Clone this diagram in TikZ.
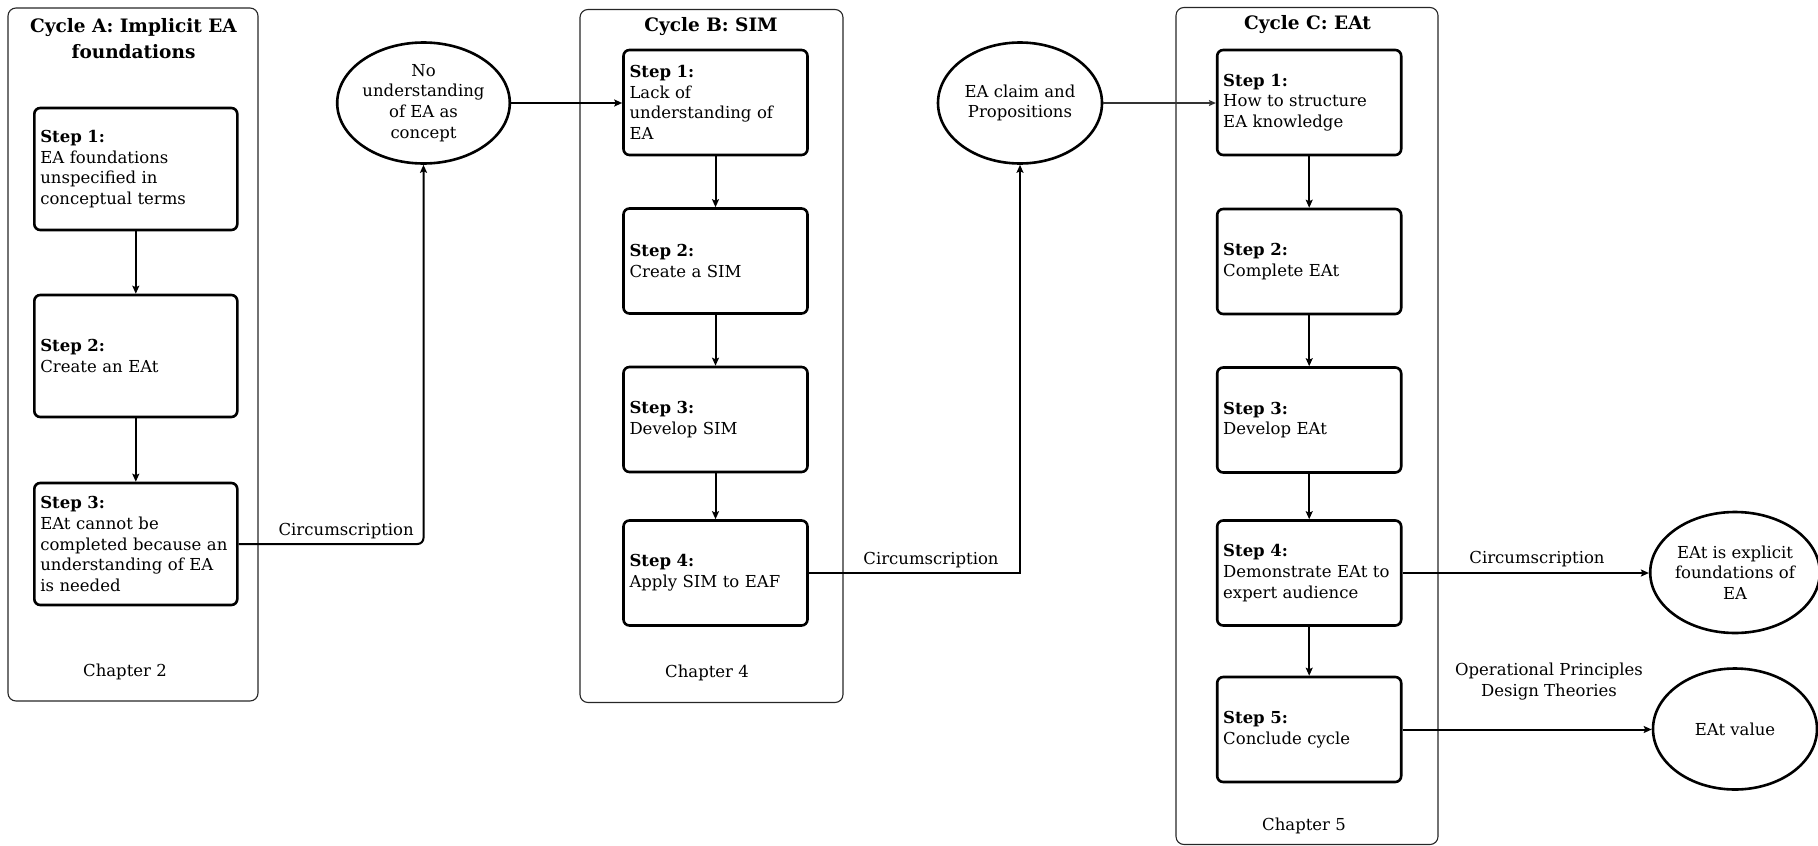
\documentclass[tikz,border=0pt]{standalone}
\usepackage{fontspec}
\setmainfont{DejaVu Serif}
\usetikzlibrary{shapes.geometric,arrows.meta}

\tikzset{
  cyclebox/.style={draw=black!85, line width=1.1pt, rounded corners=8pt, inner sep=0pt},
  cycletitle/.style={font=\fontsize{18.5}{26.5}\selectfont\bfseries, align=center, inner sep=0pt},
  chapter/.style={font=\fontsize{16.5}{20.7}\selectfont, inner sep=0pt},
  stepbox/.style={draw, line width=2.6pt, rounded corners=6pt, align=left,
    font=\fontsize{16.5}{20.7}\selectfont, inner xsep=6pt, inner ysep=0pt},
  stepA/.style={stepbox, minimum width=203pt, minimum height=122pt, text width=191pt},
  stepBC/.style={stepbox, minimum width=184pt, minimum height=105pt, text width=172pt},
  result/.style={draw, ellipse, line width=2.6pt, inner sep=0pt, align=center,
    minimum width=164pt, minimum height=121pt, font=\fontsize{16.5}{20.7}\selectfont},
  flow/.style={line width=2pt, -{Stealth[length=8pt,width=7pt,inset=1.5pt]}},
  thinflow/.style={line width=1.1pt, draw=black!80, -{Stealth[length=7pt,width=6pt,inset=1.2pt]}},
  edgelabel/.style={font=\fontsize{16.5}{20.7}\selectfont, inner sep=0pt},
}

\begin{document}
\begin{tikzpicture}[x=1pt,y=-1pt]
\useasboundingbox (0,0) rectangle (1818,846);

% cycle frames
\node[cyclebox, minimum width=250pt, minimum height=693pt] (cycA) at (133,354.5) {};
\node[cyclebox, minimum width=263pt, minimum height=693pt] (cycB) at (711.5,356) {};
\node[cyclebox, minimum width=262pt, minimum height=837pt] (cycC) at (1307,426) {};

\node[cycletitle] (titleA) at (133.5,38.5) {Cycle A: Implicit EA\\foundations};
\node[cycletitle] (titleB) at (711,27) {Cycle B: SIM};
\node[cycletitle] (titleC) at (1307.5,25) {Cycle C: EAt};

\node[chapter] (chapA) at (125,672) {Chapter 2};
\node[chapter] (chapB) at (707,673) {Chapter 4};
\node[chapter] (chapC) at (1304,826) {Chapter 5};

% cycle A steps
\node[stepA] (a1) at (135.8,169) {\textbf{Step 1:}\\EA foundations\\unspecified in\\conceptual terms};
\node[stepA] (a2) at (135.8,356) {\textbf{Step 2:}\\Create an EAt};
\node[stepA] (a3) at (135.8,544) {\textbf{Step 3:}\\EAt cannot be\\completed because an\\understanding of EA\\is needed};

% cycle B steps
\node[stepBC] (b1) at (715.5,102.5) {\textbf{Step 1:}\\Lack of\\understanding of\\EA};
\node[stepBC] (b2) at (715.5,261) {\textbf{Step 2:}\\Create a SIM};
\node[stepBC] (b3) at (715.5,419.5) {\textbf{Step 3:}\\Develop SIM};
\node[stepBC] (b4) at (715.5,573) {\textbf{Step 4:}\\Apply SIM to EAF};

% cycle C steps
\node[stepBC] (c1) at (1309.2,102.5) {\textbf{Step 1:}\\How to structure\\EA knowledge};
\node[stepBC] (c2) at (1309.2,261.5) {\textbf{Step 2:}\\Complete EAt};
\node[stepBC] (c3) at (1309.2,420) {\textbf{Step 3:}\\Develop EAt};
\node[stepBC] (c4) at (1309.2,573) {\textbf{Step 4:}\\Demonstrate EAt to\\expert audience};
\node[stepBC] (c5) at (1309.2,729.5) {\textbf{Step 5:}\\Conclude cycle};

% outcomes
\node[result] (e1) at (423.5,103) {No\\understanding\\of EA as\\concept};
\node[result] (e2) at (1020,103) {EA claim and\\Propositions};
\node[result] (e3) at (1735,572.5) {EAt is explicit\\foundations of\\EA};
\node[result] (e4) at (1735,729) {EAt value};

% flow inside the cycles
\draw[flow] (a1) -- (a2);
\draw[flow] (a2) -- (a3);
\draw[flow] (b1) -- (b2);
\draw[flow] (b2) -- (b3);
\draw[flow] (b3) -- (b4);
\draw[flow] (c1) -- (c2);
\draw[flow] (c2) -- (c3);
\draw[flow] (c3) -- (c4);
\draw[flow] (c4) -- (c5);

% links between cycles
\draw[flow, rounded corners=6pt] (a3.east) -- (e1.south |- a3.east) -- (e1.south);
\node[edgelabel, anchor=base east] (lblA) at (414,535) {Circumscription};
\draw[flow] (e1.east) -- (b1.west |- e1.east);

\draw[flow] (b4.east) -- (e2.south |- b4.east) -- (e2.south);
\node[edgelabel, anchor=base] (lblB) at (931,564) {Circumscription};
\draw[thinflow] (e2.east) -- (c1.west |- e2.east);

\draw[flow] (c4.east) -- (e3.west |- c4.east);
\node[edgelabel, anchor=base] (lblC) at (1537,563) {Circumscription};
\draw[flow] (c5.east) -- (e4.west |- c5.east);
\node[edgelabel, anchor=base, align=center] (lblD) at (1549,696) {Operational Principles\\Design Theories};
\end{tikzpicture}
\end{document}
